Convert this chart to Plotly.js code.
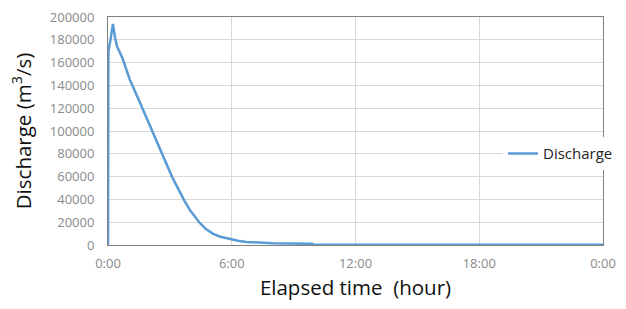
<!DOCTYPE html>
<html>
<head>
<meta charset="utf-8">
<script src="https://cdn.plot.ly/plotly-3.0.1.min.js"></script>
<style>html,body{margin:0;padding:0;background:#fff;}#chart{width:626px;height:309px;}</style>
</head>
<body>
<div id="chart"></div>
<script>
// Elapsed time in hours
const timeHours = [0, 0.02, 0.12, 0.24, 0.34, 0.44, 0.7, 1.06, 1.5, 2.18, 2.6, 2.9, 3.1, 3.3, 3.48, 3.7, 3.97, 4.2, 4.45, 4.75, 5.08, 5.4, 5.9, 6.3, 6.7, 7.3, 8.0, 9.9, 10.0, 24];
// Discharge (m3/s)
const discharge = [0, 170000, 180000, 194000, 182000, 174000, 164000, 145000, 127000, 98000, 80500, 68000, 60000, 53000, 46500, 39000, 30700, 24800, 19300, 14000, 10000, 7500, 5300, 3800, 2700, 2000, 1500, 1000, 300, 300];
const seriesName = "Discharge";
const xTickVals = [0, 6, 12, 18, 24];
const xTickText = ["0:00", "6:00", "12:00", "18:00", "0:00"];

const trace = {
  x: timeHours, y: discharge, type: 'scatter', mode: 'lines', name: seriesName,
  line: {color: '#5b9bd5', width: 2.5}
};
const layout = {
  width: 626, height: 309,
  margin: {l: 108, r: 23, t: 17, b: 64, autoexpand: false},
  paper_bgcolor: '#fff', plot_bgcolor: '#fff',
  font: {family: '"Open Sans", "Noto Sans", sans-serif'},
  showlegend: true,
  legend: {x: 0.798, y: 0.40, xanchor: 'left', yanchor: 'middle', bgcolor: '#fff',
           font: {size: 15, color: '#222'}},
  xaxis: {
    range: [0, 24], tickvals: xTickVals, ticktext: xTickText,
    showgrid: true, gridcolor: '#d9d9d9', zeroline: false,
    showline: true, mirror: true, linecolor: '#808080', linewidth: 1,
    ticks: '', ticklabelstandoff: 6,
    tickfont: {size: 13, color: '#8a8a8a'},
    title: {text: 'Elapsed time\u00a0\u00a0(hour)', font: {size: 20.5, color: '#111'}, standoff: 10}
  },
  yaxis: {
    range: [0, 200000], dtick: 20000, tickformat: 'd',
    showgrid: true, gridcolor: '#d9d9d9', zeroline: false,
    showline: true, mirror: true, linecolor: '#808080', linewidth: 1,
    ticks: '', ticklabelstandoff: 10,
    tickfont: {size: 13, color: '#8a8a8a'},
    title: {text: 'Discharge (m<sup>3</sup>/s)', font: {size: 20.5, color: '#111'}, standoff: 12}
  }
};
Plotly.newPlot('chart', [trace], layout, {displayModeBar: false, staticPlot: true});
</script>
</body>
</html>
